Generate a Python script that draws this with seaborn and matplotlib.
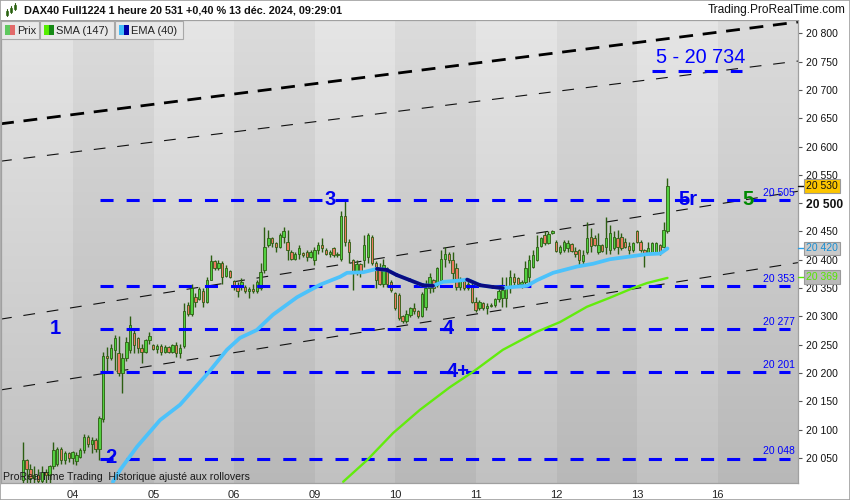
import numpy as np
import pandas as pd
import matplotlib
matplotlib.use("Agg")
import matplotlib.pyplot as plt
from matplotlib.patches import Rectangle
from matplotlib.lines import Line2D
from matplotlib.transforms import blended_transform_factory
import seaborn as sns

# ---------------- data : DAX40 Full1224, 1 hour candles ----------------
opens = [20011, 20046, 20030, 20015, 20020, 20010, 20025, 20020, 20035, 20040,
         20066, 20046, 20058, 20050, 20045, 20052, 20064, 20087, 20074, 20082,
         20065, 20118, 20230, 20226, 20240, 20235, 20200, 20226, 20240, 20270,
         20262, 20245, 20238, 20258, 20250, 20243, 20248, 20238, 20246, 20238,
         20250, 20235, 20247, 20320, 20305, 20335, 20330, 20345, 20325, 20365,
         20398, 20385, 20395, 20372, 20380, 20362, 20355, 20352, 20352, 20345,
         20349, 20345, 20350, 20382, 20426, 20438, 20429, 20423, 20440, 20432,
         20414, 20402, 20410, 20412, 20414, 20405, 20400, 20417, 20426, 20417,
         20411, 20420, 20408, 20402, 20478, 20432, 20400, 20376, 20393, 20400,
         20405, 20441, 20394, 20385, 20358, 20385, 20360, 20341, 20338, 20300,
         20292, 20303, 20314, 20310, 20300, 20317, 20350, 20364, 20355, 20364,
         20402, 20410, 20400, 20385, 20352, 20362, 20350, 20355, 20326, 20314,
         20323, 20314, 20318, 20320, 20330, 20332, 20332, 20350, 20370, 20367,
         20358, 20361, 20370, 20388, 20400, 20425, 20444, 20430, 20447, 20432,
         20414, 20417, 20420, 20428, 20416, 20417, 20397, 20414, 20440, 20438,
         20414, 20426, 20423, 20417, 20420, 20438, 20440, 20432, 20424, 20417,
         20450, 20432, 20417, 20412, 20412, 20414, 20426, 20423, 20450]
highs = [20078, 20049, 20040, 20035, 20030, 20035, 20030, 20038, 20078, 20070,
         20070, 20062, 20060, 20062, 20060, 20067, 20092, 20090, 20087, 20085,
         20124, 20238, 20246, 20252, 20267, 20265, 20235, 20264, 20301, 20276,
         20264, 20252, 20261, 20273, 20252, 20252, 20252, 20249, 20247, 20252,
         20255, 20252, 20323, 20326, 20358, 20341, 20352, 20350, 20370, 20408,
         20400, 20400, 20397, 20391, 20382, 20364, 20361, 20367, 20355, 20352,
         20358, 20364, 20394, 20458, 20453, 20440, 20432, 20447, 20458, 20452,
         20417, 20414, 20426, 20414, 20417, 20417, 20423, 20432, 20438, 20420,
         20417, 20423, 20414, 20486, 20503, 20436, 20402, 20400, 20395, 20444,
         20447, 20444, 20397, 20394, 20402, 20388, 20364, 20344, 20341, 20302,
         20311, 20317, 20323, 20311, 20344, 20364, 20376, 20366, 20388, 20417,
         20423, 20414, 20414, 20394, 20370, 20364, 20367, 20361, 20335, 20329,
         20326, 20323, 20323, 20332, 20350, 20370, 20370, 20382, 20376, 20370,
         20364, 20397, 20408, 20417, 20444, 20441, 20450, 20450, 20453, 20435,
         20426, 20435, 20435, 20429, 20423, 20419, 20417, 20467, 20456, 20444,
         20447, 20428, 20476, 20461, 20450, 20453, 20447, 20438, 20432, 20432,
         20453, 20435, 20419, 20432, 20432, 20432, 20428, 20467, 20544]
lows = [19995, 20000, 19995, 19990, 19990, 19995, 19995, 20000, 20030, 20035,
        20040, 20040, 20043, 20040, 20038, 20050, 20058, 20070, 20058, 20060,
        20047, 20114, 20200, 20223, 20205, 20194, 20164, 20222, 20235, 20235,
        20235, 20217, 20235, 20252, 20240, 20235, 20232, 20235, 20235, 20235,
        20229, 20226, 20245, 20300, 20300, 20317, 20329, 20317, 20323, 20364,
        20382, 20382, 20358, 20370, 20367, 20347, 20335, 20347, 20341, 20332,
        20341, 20341, 20347, 20376, 20423, 20423, 20414, 20420, 20429, 20400,
        20400, 20400, 20402, 20405, 20397, 20403, 20391, 20411, 20414, 20408,
        20405, 20405, 20405, 20398, 20425, 20394, 20347, 20374, 20370, 20388,
        20394, 20391, 20350, 20355, 20352, 20352, 20344, 20312, 20294, 20288,
        20288, 20299, 20305, 20297, 20299, 20311, 20341, 20344, 20352, 20362,
        20388, 20394, 20364, 20347, 20347, 20347, 20347, 20323, 20308, 20311,
        20311, 20305, 20317, 20317, 20326, 20317, 20317, 20341, 20355, 20355,
        20350, 20353, 20355, 20385, 20397, 20423, 20427, 20428, 20446, 20414,
        20411, 20414, 20414, 20414, 20405, 20391, 20391, 20411, 20414, 20424,
        20411, 20414, 20411, 20411, 20417, 20411, 20417, 20420, 20411, 20414,
        20429, 20414, 20388, 20411, 20411, 20411, 20408, 20420, 20447]
closes = [20046, 20030, 20015, 20020, 20010, 20025, 20020, 20035, 20064, 20066,
          20046, 20058, 20050, 20060, 20055, 20064, 20087, 20074, 20082, 20065,
          20120, 20230, 20226, 20245, 20262, 20200, 20226, 20255, 20285, 20250,
          20245, 20238, 20258, 20266, 20243, 20248, 20238, 20246, 20238, 20250,
          20235, 20245, 20310, 20305, 20350, 20325, 20348, 20325, 20365, 20398,
          20385, 20395, 20370, 20385, 20370, 20352, 20345, 20360, 20345, 20349,
          20345, 20360, 20379, 20423, 20438, 20429, 20423, 20444, 20450, 20417,
          20402, 20410, 20420, 20408, 20405, 20414, 20417, 20426, 20420, 20411,
          20414, 20408, 20411, 20478, 20432, 20414, 20376, 20393, 20380, 20426,
          20444, 20394, 20364, 20358, 20390, 20358, 20347, 20314, 20297, 20292,
          20305, 20314, 20310, 20300, 20340, 20350, 20370, 20350, 20385, 20402,
          20410, 20400, 20376, 20352, 20362, 20350, 20358, 20326, 20312, 20326,
          20314, 20318, 20321, 20330, 20345, 20347, 20350, 20370, 20360, 20358,
          20361, 20385, 20400, 20408, 20423, 20438, 20429, 20445, 20450, 20415,
          20423, 20432, 20430, 20416, 20410, 20400, 20408, 20438, 20425, 20426,
          20426, 20416, 20438, 20447, 20440, 20423, 20420, 20423, 20417, 20429,
          20432, 20417, 20412, 20420, 20429, 20430, 20414, 20453, 20530]

day_labels = ["04", "05", "06", "09", "10", "11", "12", "13", "16"]
day_ticks = [13.1, 34.1, 55.1, 76.1, 97.1, 118.1, 139.1, 160.1, 181.1]
shaded_days = [(13.1, 34.1), (55.1, 76.1), (97.1, 118.1), (139.1, 160.1), (181.1, 203.0)]

ema_x = [23.5, 25.4, 29.8, 35.8, 41.0, 46.2, 48.3, 53.2, 56.6, 61.0, 65.2, 71.5,
         77.5, 82.7, 84.5, 88.7, 92.3, 94.9, 97.5, 100.9, 104.3, 106.9, 109.5,
         113.2, 115.8, 119.2, 122.5, 125.1, 127.8, 131.4, 134.0, 138.2, 144.4,
         148.6, 153.0, 157.4, 162.7, 166.1, 168.0]
ema_y = [20008, 20029, 20070, 20117, 20144, 20184, 20200, 20241, 20262, 20276,
         20303, 20334, 20356, 20370, 20377, 20378, 20384, 20382, 20373, 20364,
         20355, 20354, 20361, 20363, 20365, 20355, 20352, 20350, 20352, 20354,
         20364, 20377, 20388, 20393, 20401, 20405, 20410, 20411, 20420]
sma_x = [83.5, 89.7, 96.5, 103.5, 111.3, 117.3, 125.1, 134.0, 140.0, 147.0,
         153.0, 159.0, 162.7, 168.0]
sma_y = [20008, 20046, 20094, 20135, 20175, 20202, 20241, 20273, 20290, 20317,
         20333, 20350, 20359, 20368]

level_prices = [20505, 20353, 20277, 20201, 20048]
level_span = [20.1, 199.9]
target_price = 20734
target_span = [164.0, 187.4]

channel_x = [-5.9, 202.0]
channel_thick = [20640, 20820]
channel_thin = [[20574, 20751], [20295, 20521], [20170, 20395]]

wave_labels = ["1", "2", "3", "4", "4+", "5r"]
wave_x = [8.4, 23.0, 80.1, 110.8, 113.4, 173.3]
wave_y = [20278, 20050, 20506, 20278, 20202, 20507]
green_five = (188.9, 20506)
target_text = (176.6, 20758)

price_ticks = list(range(20050, 20801, 50))
last_price = 20530
ema_last = 20420
sma_last = 20369

# ---------------- style ----------------
sns.set_theme(style="white")
plt.rcParams['font.family'] = ['Liberation Sans', 'DejaVu Sans']
plt.rcParams['lines.scale_dashes'] = False
plt.rcParams['axes.grid'] = False

W, H = 850, 500
fig = plt.figure(figsize=(8.5, 5), dpi=100)
fig.patch.set_facecolor('white')
ax = fig.add_axes([1 / W, 1 - 483 / H, 797 / W, 463 / H])

XMIN, XMAX = -5.654, 202.01
YMIN, YMAX = 20005.8, 20823.5

# background gradient
grad = np.linspace(0, 1, 256)[:, None, None]
top = np.array([0.900, 0.900, 0.900])
bot = np.array([0.758, 0.758, 0.758])
img = top + (bot - top) * grad
ax.imshow(img, extent=[0, 1, 0, 1], transform=ax.transAxes, aspect='auto',
          zorder=0, origin='upper', interpolation='bilinear')
for a, b in shaded_days:
    ax.axvspan(a, b, color='black', alpha=0.045, lw=0, zorder=0.5)

# channel lines
ax.plot(channel_x, channel_thick, color='black', lw=2.0, dashes=(10, 7), zorder=2.5)
for ys in channel_thin:
    ax.plot(channel_x, ys, color='#111111', lw=0.8, dashes=(8.5, 8.5), zorder=2.5)

# candles
df = pd.DataFrame(dict(o=opens, h=highs, l=lows, c=closes))
df['x'] = np.arange(len(df))
up = df['c'] >= df['o']
wick = '#2c5e12'
ax.vlines(df['x'], df['l'], df['h'], color=wick, lw=1.0, zorder=3)
ax.bar(df['x'], (df['c'] - df['o']).abs().clip(lower=1.5),
       bottom=np.minimum(df['o'], df['c']), width=0.62,
       color=np.where(up, '#52d040', '#ec7a60'), edgecolor=wick, linewidth=0.6, zorder=4)

# horizontal blue levels
for v in level_prices:
    ax.plot(level_span, [v, v], color='#0000ff', lw=2.2, dashes=(9.4, 9.4),
            zorder=5, solid_capstyle='butt', dash_capstyle='butt')
    ax.annotate(f"20 {v - 20000:03d}", xy=(201.2, v), xytext=(0, 2.0),
                textcoords='offset points', ha='right', va='bottom',
                color='#0000ff', fontsize=7.5, zorder=9)
ax.plot(target_span, [target_price] * 2, color='#0000ff', lw=2.2, dashes=(9.4, 9.4),
        zorder=5, dash_capstyle='butt')

# SMA 147
sma_df = pd.DataFrame({'x': sma_x, 'y': sma_y})
sns.lineplot(data=sma_df, x='x', y='y', ax=ax, color='#62ec0c', lw=1.7,
             sort=False, legend=False, zorder=6)

# EMA 40 (light when rising, navy when falling)
ema_df = pd.DataFrame({'x': ema_x, 'y': ema_y})
sns.lineplot(data=ema_df, x='x', y='y', ax=ax, color='#4cc2fb', lw=2.7,
             sort=False, legend=False, zorder=6.5)
for i in range(len(ema_x) - 1):
    if ema_y[i + 1] < ema_y[i]:
        ax.plot(ema_x[i:i + 2], ema_y[i:i + 2], color='#0b0b82', lw=2.7,
                zorder=7, solid_capstyle='round')

# wave labels
for t, x, y in zip(wave_labels, wave_x, wave_y):
    ax.text(x, y, t, color='#0000f0', fontsize=14.5, fontweight='bold',
            ha='center', va='center', zorder=10)
ax.text(green_five[0], green_five[1], "5", color='#008a00', fontsize=14.5,
        fontweight='bold', ha='center', va='center', zorder=10)
ax.text(target_text[0], target_text[1], "5 - 20 734", color='#0000ff', fontsize=14.3,
        ha='center', va='center', zorder=10)

ax.text(0.0025, 0.0075, "ProRealTime Trading  Historique ajusté aux rollovers",
        transform=ax.transAxes, fontsize=7.6, color='#1a1a1a', ha='left',
        va='baseline', zorder=10)

# axes
ax.set_xlim(XMIN, XMAX)
ax.set_ylim(YMIN, YMAX)
ax.set_xlabel('')
ax.set_ylabel('')
ax.set_xticks(day_ticks)
ax.set_xticklabels(day_labels)
ax.yaxis.tick_right()
ax.set_yticks(price_ticks)
ax.set_yticklabels([f"{v // 1000} {v % 1000:03d}" for v in price_ticks])
ax.tick_params(axis='x', length=3, width=0.8, color='#777777', pad=2,
               labelsize=8, labelcolor='#222222', direction='out')
ax.tick_params(axis='y', length=3, width=0.8, color='#555555', pad=2.5,
               labelsize=7.5, labelcolor='#111111', direction='out')
for lab in ax.get_yticklabels():
    if lab.get_text() == "20 500":
        lab.set_fontweight('bold')
        lab.set_fontsize(8.7)
for s in ax.spines.values():
    s.set_color('#a0a0a0')
    s.set_linewidth(0.9)

# price badges on the right axis
bt = blended_transform_factory(ax.transAxes, ax.transData)
badges = [(last_price, '#111111', '#fcc500', '#111111'),
          (ema_last, '#1c8fd2', '#c9c9c9', '#2aa0e8'),
          (sma_last, '#55e800', '#b9b9b9', '#55e800')]
for v, tc, fc, tick_c in badges:
    ax.plot([1.0, 1.007], [v, v], color=tick_c, lw=1.0, transform=bt,
            clip_on=False, zorder=11)
    ax.text(1.0105, v, f"{v // 1000} {v % 1000:03d}", transform=bt, color=tc,
            fontsize=7.5, ha='left', va='center', zorder=12, clip_on=False,
            bbox=dict(boxstyle='square,pad=0.18', fc=fc, ec='#9a9a9a', lw=0.8))

# ---------------- title bar & legend tabs (figure level) ----------------
def fx(px):
    return px / W


def fy(py):
    return 1 - py / H


fig.patches.append(Rectangle((0, fy(20)), 1, 20 / H, transform=fig.transFigure,
                             fc='white', ec='none', zorder=0))
# small candle icon
for cx, y0, y1, b0, b1 in [(7, 16, 9, 15, 11), (11, 13, 6, 12, 8), (15, 10, 3, 9, 5)]:
    fig.add_artist(Line2D([fx(cx), fx(cx)], [fy(y0), fy(y1)], color='#2c5e12',
                          lw=0.8, transform=fig.transFigure))
    fig.patches.append(Rectangle((fx(cx - 1.3), fy(b0)), 2.6 / W, (b0 - b1) / H,
                                 transform=fig.transFigure, fc='#56c040',
                                 ec='#2c5e12', lw=0.5))
fig.text(fx(24), fy(10.5), "DAX40 Full1224 1 heure 20 531 +0,40 % 13 déc. 2024, 09:29:01",
         fontsize=7.8, fontweight='bold', color='#111111', ha='left', va='center')
fig.text(fx(846), fy(10.5), "Trading.ProRealTime.com", fontsize=8.6,
         color='#111111', ha='right', va='center')

tabs = [(1, 39, "Prix", ('#5ec85e', '#e26a6a')),
        (40, 114, "SMA (147)", ('#55ee00', '#168a16')),
        (115, 183, "EMA (40)", ('#45bdf8', '#0000a8'))]
for x0, x1, label, (c1, c2) in tabs:
    fig.patches.append(Rectangle((fx(x0), fy(39)), (x1 - x0) / W, 18 / H,
                                 transform=fig.transFigure, fc='#e8e8e8',
                                 ec='#a8a8a8', lw=0.8, zorder=20))
    fig.patches.append(Rectangle((fx(x0 + 4), fy(35)), 5 / W, 10 / H,
                                 transform=fig.transFigure, fc=c1, ec='none', zorder=21))
    fig.patches.append(Rectangle((fx(x0 + 9), fy(35)), 5 / W, 10 / H,
                                 transform=fig.transFigure, fc=c2, ec='none', zorder=21))
    fig.text(fx(x0 + 16), fy(30.5), label, fontsize=8, color='#222222',
             ha='left', va='center', zorder=22)

# outer frame
fig.patches.append(Rectangle((0, 0), 1, 1, transform=fig.transFigure, fill=False,
                             ec='#a0a0a0', lw=1.2, zorder=30))

fig.savefig("out.png", dpi=100)
